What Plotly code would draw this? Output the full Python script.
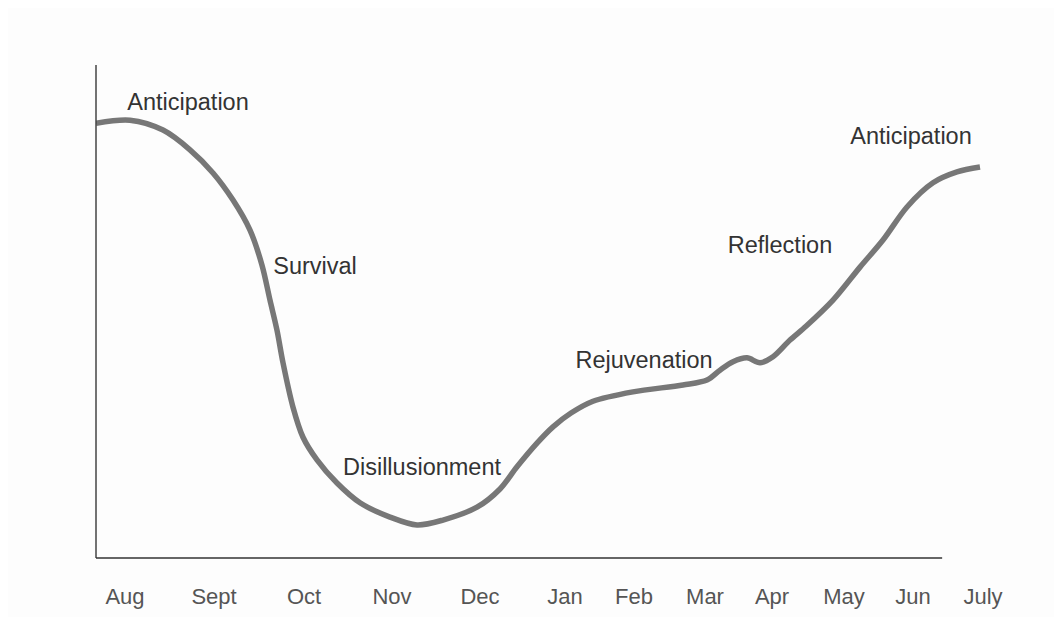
import plotly.graph_objects as go

# Timeline units along the school year (Aug -> July), mood scale 0-100
months = ["Aug", "Sept", "Oct", "Nov", "Dec", "Jan", "Feb", "Mar", "Apr", "May", "Jun", "July"]
month_pos = [29, 118, 208, 296, 384, 469, 538, 609, 676, 748, 817, 887]

curve_t = [0, 34, 67, 94, 117, 137, 154, 166, 174, 181, 187, 197, 207, 221, 241, 264, 294,
           321, 347, 381, 404, 421, 441, 457, 475, 497, 537, 587, 611, 624, 637, 651, 664,
           677, 694, 710, 737, 764, 787, 811, 837, 861, 884]
curve_mood = [88.2, 88.8, 86.8, 82.8, 78.1, 72.6, 66.5, 59.4, 52.3, 46.2, 39.6, 30.6, 24.5,
              19.9, 15.2, 11.2, 8.3, 6.7, 7.7, 10.3, 14.0, 18.5, 23.3, 26.6, 29.4, 31.8, 33.7,
              35.1, 36.1, 38.1, 39.8, 40.6, 39.6, 40.8, 44.2, 47.0, 52.3, 59.0, 64.5, 71.2,
              76.1, 78.3, 79.3]

phases = ["Anticipation", "Survival", "Disillusionment", "Rejuvenation", "Reflection", "Anticipation"]
phase_t = [92, 219, 326, 548, 684, 815]
phase_mood = [92.1, 58.8, 18.1, 39.8, 63.1, 85.2]

FONT = "Liberation Sans, Arial, sans-serif"

fig = go.Figure()
fig.add_trace(go.Scatter(
    x=curve_t, y=curve_mood, mode="lines",
    line=dict(color="#777777", width=5.5, shape="spline", smoothing=0.9),
    hoverinfo="skip", showlegend=False,
))
fig.add_trace(go.Scatter(
    x=phase_t, y=phase_mood, mode="text", text=phases,
    textfont=dict(family=FONT, size=23.5, color="#333333"),
    textposition="middle center", hoverinfo="skip", showlegend=False,
))

fig.update_layout(
    width=1062, height=617,
    margin=dict(l=88, r=70, t=57, b=67),
    paper_bgcolor="#fdfdfd", plot_bgcolor="#fdfdfd",
    xaxis=dict(range=[0, 904], tickvals=month_pos, ticktext=months, showgrid=False,
               zeroline=False, showline=False, ticks="", ticklen=0,
               tickfont=dict(family=FONT, size=22, color="#555555")),
    yaxis=dict(range=[0, 100], showgrid=False, zeroline=False, showticklabels=False,
               showline=False, ticks=""),
    shapes=[
        dict(type="line", xref="paper", yref="paper", x0=0, x1=0, y0=0, y1=1,
             line=dict(color="#444444", width=1.5)),
        dict(type="line", xref="paper", yref="paper", x0=0, x1=0.936, y0=0, y1=0,
             line=dict(color="#333333", width=1.5)),
    ],
)
fig.update_xaxes(ticklabelstandoff=23)

fig.write_html("out.html")
